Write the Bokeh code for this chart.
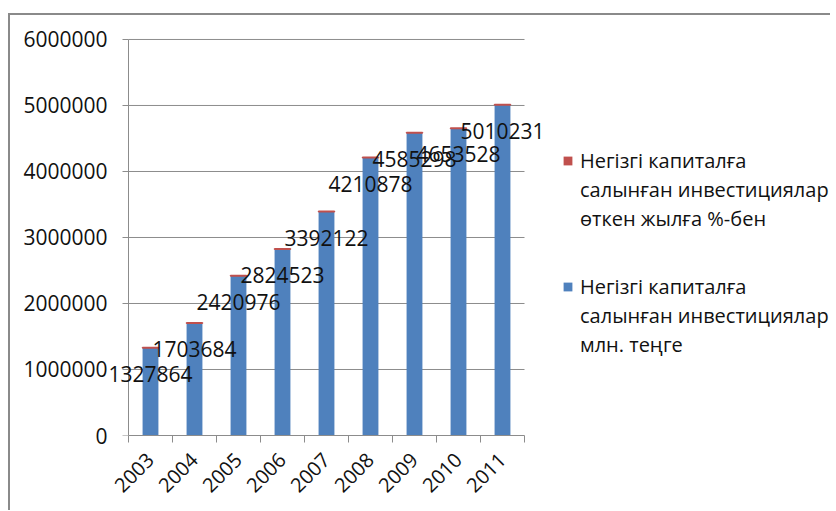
import math
from bokeh.plotting import figure
from bokeh.layouts import row
from bokeh.models import (ColumnDataSource, FixedTicker, Range1d, Legend, LegendItem,
                          NumeralTickFormatter, LabelSet, LinearAxis)
from bokeh.core.properties import value
from bokeh.embed import file_html
from bokeh.resources import INLINE

years = ["2003", "2004", "2005", "2006", "2007", "2008", "2009", "2010", "2011"]
invest = [1327864, 1703684, 2420976, 2824523, 3392122, 4210878, 4585298, 4653528, 5010231]
pct = [116.6, 110.6, 132.7, 110.6, 110.9, 104.9, 102.0, 99.4, 102.1]
y_ticks = [0, 1000000, 2000000, 3000000, 4000000, 5000000, 6000000]
label_pct = ["Негізгі капиталға", "салынған инвестициялар", "өткен жылға %-бен"]
label_inv = ["Негізгі капиталға", "салынған инвестициялар", "млн. теңге"]

BLUE = "#4F81BD"
RED = "#C0504D"
GRID = "#8c8c8c"
FONT = "Open Sans"
TXT = "#111111"

n = len(years)
xs = [i + 0.5 for i in range(n)]
src = ColumnDataSource(dict(
    x=xs, inv=invest, top2=[a + b for a, b in zip(invest, pct)],
    lbl=[str(v) for v in invest]))

# frame is a bit wider than the category area so that data labels are not clipped
p = figure(width=550, height=495, output_backend="svg", toolbar_location=None,
           x_range=Range1d(-21 / 44, n + 26 / 44), y_range=Range1d(0, 6030000),
           min_border_left=97, min_border_right=10, min_border_top=22,
           min_border_bottom=75)
p.outline_line_color = None

# horizontal grid lines over the category area only
grid_src = ColumnDataSource(dict(y=y_ticks[1:], x0=[0] * (len(y_ticks) - 1),
                                 x1=[n] * (len(y_ticks) - 1)))
p.segment(x0="x0", x1="x1", y0="y", y1="y", source=grid_src,
          line_color=GRID, line_width=1)

r_inv = p.vbar(x="x", top="inv", bottom=0, width=0.36, source=src,
               fill_color=BLUE, line_color=None)
r_pct = p.vbar(x="x", top="top2", bottom="inv", width=0.36, source=src,
               fill_color=RED, line_color=RED, line_width=2)

labels = LabelSet(x="x", y="inv", text="lbl", source=src, y_offset=-26,
                  text_align="center", text_baseline="middle",
                  text_font=value(FONT), text_font_size=value("21px"),
                  text_color=value(TXT))
p.add_layout(labels)

# x axis
xa = p.xaxis[0]
xa.bounds = (0, n)
xa.ticker = FixedTicker(ticks=xs, minor_ticks=list(range(n + 1)))
xa.major_label_overrides = {x: y for x, y in zip(xs, years)}
xa.major_label_orientation = math.pi / 4
xa.major_tick_line_color = None
xa.major_tick_out = 7
xa.minor_tick_out = 7
xa.minor_tick_in = 0
xa.minor_tick_line_color = GRID
xa.axis_line_color = GRID
xa.major_label_text_font = FONT
xa.major_label_text_font_size = "20px"
xa.major_label_text_color = TXT
xa.major_label_standoff = 14

# y axis: labels in the side panel
ya = p.yaxis[0]
ya.ticker = FixedTicker(ticks=y_ticks)
ya.formatter = NumeralTickFormatter(format="0")
ya.axis_line_color = None
ya.major_tick_line_color = None
ya.minor_tick_line_color = None
ya.major_tick_out = 0
ya.major_tick_in = 0
ya.major_label_text_font = FONT
ya.major_label_text_font_size = "21px"
ya.major_label_text_color = TXT
ya.major_label_standoff = 0

# y axis line and ticks at the start of the category area
ya2 = LinearAxis(fixed_location=0, bounds=(0, 6000000),
                 ticker=FixedTicker(ticks=y_ticks))
ya2.axis_line_color = GRID
ya2.major_tick_line_color = GRID
ya2.major_tick_out = 6
ya2.major_tick_in = 0
ya2.minor_tick_line_color = None
ya2.major_label_text_color = None
p.add_layout(ya2, "left")

p.xgrid.grid_line_color = None
p.ygrid.grid_line_color = None

# legend panel
p2 = figure(width=270, height=495, output_backend="svg", toolbar_location=None,
            x_range=Range1d(0, 1), y_range=Range1d(0, 1),
            min_border=0)
p2.axis.visible = False
p2.grid.visible = False
p2.outline_line_color = None

def swatch(color):
    return p2.vbar(x=[0.5], top=[0], bottom=[0], width=0.5, fill_color=color,
                   line_color=None)

def blank():
    return p2.vbar(x=[0.5], top=[0], bottom=[0], width=0.5, fill_alpha=0,
                   line_alpha=0)

def make_legend(lines, color, loc):
    items = [LegendItem(label=lines[0], renderers=[swatch(color)])]
    items += [LegendItem(label=t, renderers=[blank()]) for t in lines[1:]]
    lg = Legend(items=items, location=loc, orientation="vertical")
    lg.border_line_color = None
    lg.background_fill_alpha = 0
    lg.label_text_font = FONT
    lg.label_text_font_size = "20px"
    lg.label_text_color = TXT
    lg.glyph_width = 11
    lg.glyph_height = 11
    lg.label_standoff = 7
    lg.spacing = 0
    lg.padding = 0
    lg.margin = 0
    lg.label_height = 29
    lg.label_text_baseline = "middle"
    p2.add_layout(lg, "center")

make_legend(label_pct, RED, (2, 202))
make_legend(label_inv, BLUE, (2, 76))

layout = row(p, p2)
layout.styles = {"border-left": "2px solid #8a8a8a", "border-top": "2px solid #8a8a8a",
                 "margin-left": "8px", "margin-top": "13px"}

open("out.html", "w").write(file_html(layout, INLINE))
